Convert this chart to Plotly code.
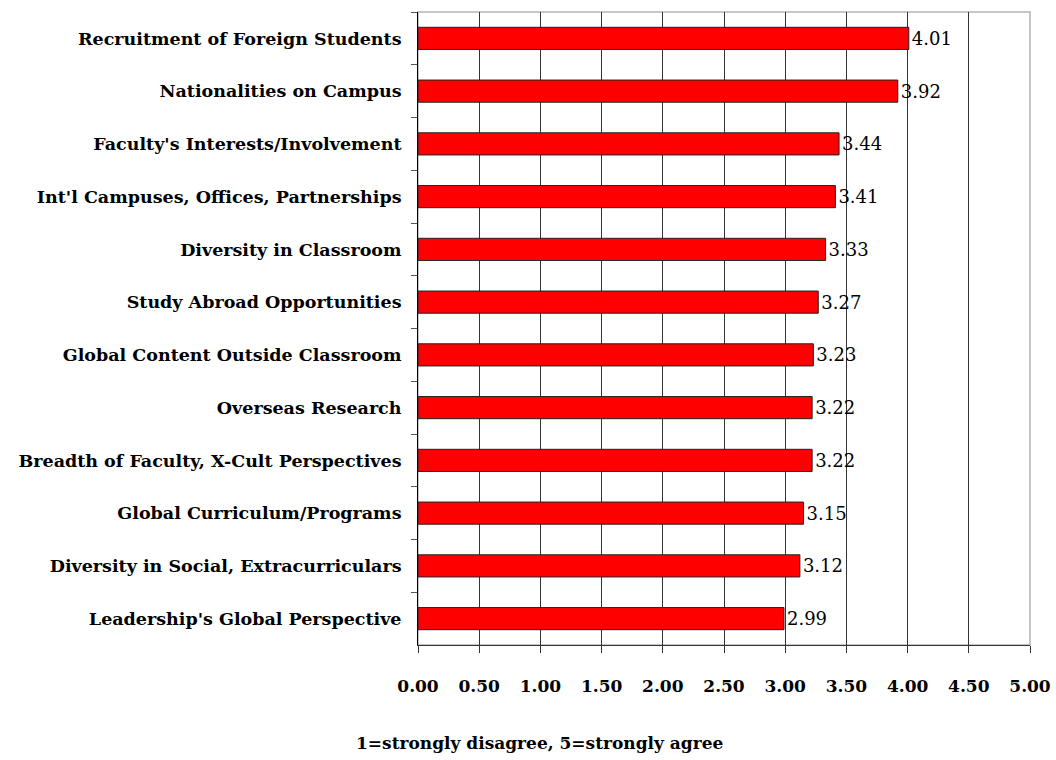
import plotly.graph_objects as go

# survey items, top to bottom as shown
items = [
    "Recruitment of Foreign Students",
    "Nationalities on Campus",
    "Faculty's Interests/Involvement",
    "Int'l Campuses, Offices, Partnerships",
    "Diversity in Classroom",
    "Study Abroad Opportunities",
    "Global Content Outside Classroom",
    "Overseas Research",
    "Breadth of Faculty, X-Cult Perspectives",
    "Global Curriculum/Programs",
    "Diversity in Social, Extracurriculars",
    "Leadership's Global Perspective",
]
scores = [4.01, 3.92, 3.44, 3.41, 3.33, 3.27, 3.23, 3.22, 3.22, 3.15, 3.12, 2.99]

tick_vals = [0, 0.5, 1, 1.5, 2, 2.5, 3, 3.5, 4, 4.5, 5]
tick_text = ["%.2f" % v for v in tick_vals]

SERIF = "DejaVu Serif, serif"

fig = go.Figure()
fig.add_trace(go.Bar(
    x=scores,
    y=items,
    orientation="h",
    width=0.42,
    marker=dict(color="#ff0000", line=dict(color="#222222", width=1)),
    text=["%.2f" % s for s in scores],
    textposition="outside",
    textfont=dict(family=SERIF, size=18, color="black"),
    cliponaxis=False,
))

fig.update_layout(
    width=1056,
    height=760,
    margin=dict(l=418, r=26, t=12, b=115),
    plot_bgcolor="white",
    paper_bgcolor="white",
    showlegend=False,
    font=dict(family=SERIF, color="black"),
    shapes=[dict(type="rect", xref="paper", yref="paper", x0=0, x1=1, y0=0, y1=1,
                 line=dict(color="#b4b4b4", width=1.5), layer="below")],
    annotations=[dict(
        xref="paper", yref="paper", x=(540 - 418) / 612, y=-0.155,
        xanchor="center", yanchor="middle", showarrow=False,
        text="<b>1=strongly disagree, 5=strongly agree</b>",
        font=dict(family=SERIF, size=17, color="black"),
    )],
)

fig.update_xaxes(
    range=[0, 5],
    tickvals=tick_vals,
    ticktext=tick_text,
    tickfont=dict(family=SERIF, size=17, color="black", weight="bold"),
    ticks="outside",
    ticklen=7,
    tickcolor="#333333",
    ticklabelstandoff=19,
    ticklabeloverflow="allow",
    automargin=False,
    showgrid=True,
    gridcolor="#333333",
    gridwidth=1,
    showline=True,
    linecolor="#333333",
    linewidth=1,
    zeroline=False,
)

fig.update_yaxes(
    autorange="reversed",
    tickson="boundaries",
    ticks="outside",
    ticklen=6,
    tickcolor="#555555",
    tickfont=dict(family=SERIF, size=17.5, color="black", weight="bold"),
    ticklabelstandoff=12,
    automargin=False,
    showgrid=False,
    showline=True,
    linecolor="black",
    linewidth=1,
)

# drop the default 8px page margin so the figure fills the window
fig.write_html("out.html", config={"displayModeBar": False},
               post_script="document.body.style.margin='0';")
